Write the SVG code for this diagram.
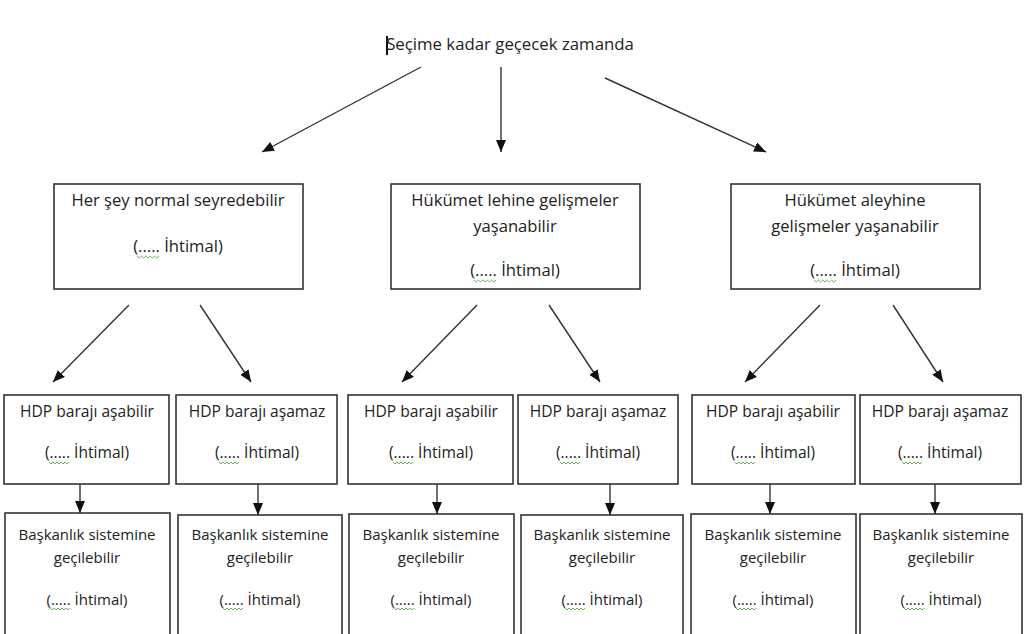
<svg xmlns="http://www.w3.org/2000/svg" width="1024" height="634" viewBox="0 0 1024 634">
<style>
  .box { fill: #ffffff; stroke: #333333; stroke-width: 1.6; }
  .t { font-family: "Open Sans", "Liberation Sans", sans-serif; fill: #222222; text-anchor: middle; }
  .top { font-size: 16.8px; }
  .l1 { font-size: 16.6px; }
  .l2 { font-size: 15.6px; }
  .l3 { font-size: 15px; }
  .con { stroke: #333333; stroke-width: 1.4; fill: none; marker-end: url(#ah); }
  .sq { stroke: #5aa845; stroke-width: 0.9; fill: none; }
</style>
<defs>
  <marker id="ah" markerUnits="userSpaceOnUse" markerWidth="13" markerHeight="10" refX="12" refY="5" orient="auto">
    <path d="M0,0 L12,5 L0,10 z" fill="#111111"/>
  </marker>
  <path id="sqA" class="sq" d="M0,0 l2.2,2 l2.2,-2 l2.2,2 l2.2,-2 l2.2,2 l2.2,-2 l2.2,2 l2.2,-2 l2.2,2 l2.2,-2"/>
  <path id="sqB" class="sq" d="M0,0 l2,2 l2,-2 l2,2 l2,-2 l2,2 l2,-2 l2,2 l2,-2 l2,2 l2,-2"/>
</defs>
<rect width="1024" height="634" fill="#ffffff"/>

<g id="root">
  <line x1="387" y1="36" x2="387" y2="55" stroke="#111" stroke-width="2"/>
  <text class="t top" x="510" y="50">Seçime kadar geçecek zamanda</text>
</g>

<g id="connectors">
  <line class="con" x1="421" y1="67" x2="262" y2="152"/>
  <line class="con" x1="501" y1="67" x2="501" y2="152"/>
  <line class="con" x1="605" y1="78" x2="766" y2="152"/>
  <line class="con" x1="129" y1="305" x2="53" y2="382"/>
  <line class="con" x1="200" y1="305" x2="251" y2="382"/>
  <line class="con" x1="477" y1="305" x2="402" y2="382"/>
  <line class="con" x1="549" y1="305" x2="600" y2="382"/>
  <line class="con" x1="820" y1="305" x2="745" y2="382"/>
  <line class="con" x1="893" y1="305" x2="943" y2="382"/>
  <line class="con" x1="80" y1="484" x2="80" y2="513"/>
  <line class="con" x1="258" y1="484" x2="258" y2="515"/>
  <line class="con" x1="437" y1="484" x2="437" y2="514"/>
  <line class="con" x1="610" y1="484" x2="610" y2="515"/>
  <line class="con" x1="770" y1="484" x2="770" y2="514"/>
  <line class="con" x1="935" y1="484" x2="935" y2="514"/>
</g>

<g id="n1">
  <rect class="box" x="54" y="184" width="249" height="105"/>
  <text class="t l1" x="178" y="206">Her şey normal seyredebilir</text>
  <text class="t l1" x="178" y="252">(..... İhtimal)</text>
  <use href="#sqA" x="137" y="256"/>
</g>
<g id="n2">
  <rect class="box" x="391" y="184" width="249" height="105"/>
  <text class="t l1" x="515" y="206">Hükümet lehine gelişmeler</text>
  <text class="t l1" x="515" y="232">yaşanabilir</text>
  <text class="t l1" x="515" y="276">(..... İhtimal)</text>
  <use href="#sqA" x="474" y="280"/>
</g>
<g id="n3">
  <rect class="box" x="731" y="184" width="249" height="105"/>
  <text class="t l1" x="855" y="206">Hükümet aleyhine</text>
  <text class="t l1" x="855" y="232">gelişmeler yaşanabilir</text>
  <text class="t l1" x="855" y="276">(..... İhtimal)</text>
  <use href="#sqA" x="814" y="280"/>
</g>

<g id="n4">
  <rect class="box" x="4" y="395" width="165" height="89"/>
  <text class="t l2" x="87" y="417">HDP barajı aşabilir</text>
  <text class="t l2" x="87" y="458">(..... İhtimal)</text>
  <use href="#sqB" x="49" y="462"/>
</g>
<g id="n5">
  <rect class="box" x="176" y="395" width="161" height="89"/>
  <text class="t l2" x="257" y="417">HDP barajı aşamaz</text>
  <text class="t l2" x="257" y="458">(..... İhtimal)</text>
  <use href="#sqB" x="219" y="462"/>
</g>
<g id="n6">
  <rect class="box" x="348" y="395" width="165" height="89"/>
  <text class="t l2" x="431" y="417">HDP barajı aşabilir</text>
  <text class="t l2" x="431" y="458">(..... İhtimal)</text>
  <use href="#sqB" x="393" y="462"/>
</g>
<g id="n7">
  <rect class="box" x="518" y="395" width="160" height="89"/>
  <text class="t l2" x="598" y="417">HDP barajı aşamaz</text>
  <text class="t l2" x="598" y="458">(..... İhtimal)</text>
  <use href="#sqB" x="560" y="462"/>
</g>
<g id="n8">
  <rect class="box" x="692" y="395" width="163" height="89"/>
  <text class="t l2" x="773" y="417">HDP barajı aşabilir</text>
  <text class="t l2" x="773" y="458">(..... İhtimal)</text>
  <use href="#sqB" x="735" y="462"/>
</g>
<g id="n9">
  <rect class="box" x="860" y="395" width="161" height="89"/>
  <text class="t l2" x="940" y="417">HDP barajı aşamaz</text>
  <text class="t l2" x="940" y="458">(..... İhtimal)</text>
  <use href="#sqB" x="902" y="462"/>
</g>

<g id="n10">
  <rect class="box" x="5" y="513" width="165" height="130"/>
  <text class="t l3" x="87" y="540">Başkanlık sistemine</text>
  <text class="t l3" x="87" y="563">geçilebilir</text>
  <text class="t l3" x="87" y="605">(..... İhtimal)</text>
  <use href="#sqB" x="50" y="608"/>
</g>
<g id="n11">
  <rect class="box" x="178" y="515" width="164" height="130"/>
  <text class="t l3" x="260" y="540">Başkanlık sistemine</text>
  <text class="t l3" x="260" y="563">geçilebilir</text>
  <text class="t l3" x="260" y="605">(..... İhtimal)</text>
  <use href="#sqB" x="223" y="608"/>
</g>
<g id="n12">
  <rect class="box" x="349" y="514" width="165" height="130"/>
  <text class="t l3" x="431" y="540">Başkanlık sistemine</text>
  <text class="t l3" x="431" y="563">geçilebilir</text>
  <text class="t l3" x="431" y="605">(..... İhtimal)</text>
  <use href="#sqB" x="394" y="608"/>
</g>
<g id="n13">
  <rect class="box" x="521" y="515" width="162" height="130"/>
  <text class="t l3" x="602" y="540">Başkanlık sistemine</text>
  <text class="t l3" x="602" y="563">geçilebilir</text>
  <text class="t l3" x="602" y="605">(..... İhtimal)</text>
  <use href="#sqB" x="565" y="608"/>
</g>
<g id="n14">
  <rect class="box" x="691" y="514" width="165" height="130"/>
  <text class="t l3" x="773" y="540">Başkanlık sistemine</text>
  <text class="t l3" x="773" y="563">geçilebilir</text>
  <text class="t l3" x="773" y="605">(..... İhtimal)</text>
  <use href="#sqB" x="736" y="608"/>
</g>
<g id="n15">
  <rect class="box" x="860" y="514" width="162" height="130"/>
  <text class="t l3" x="941" y="540">Başkanlık sistemine</text>
  <text class="t l3" x="941" y="563">geçilebilir</text>
  <text class="t l3" x="941" y="605">(..... İhtimal)</text>
  <use href="#sqB" x="904" y="608"/>
</g>
</svg>
